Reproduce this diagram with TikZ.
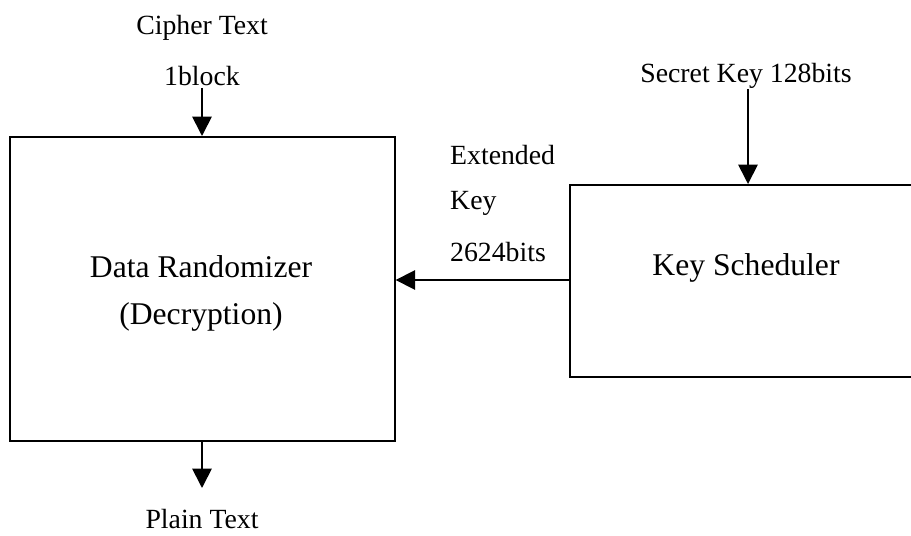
\documentclass[tikz,border=0pt]{standalone}
\usepackage{fontspec}
\setmainfont{Liberation Serif}
\usetikzlibrary{arrows.meta}
\tikzset{
  block/.style={draw, line width=1pt, inner sep=0pt},
  bigtxt/.style={font=\fontsize{18}{22}\selectfont},
  smalltxt/.style={font=\fontsize{15.8}{18}\selectfont},
  flow/.style={line width=1pt, -{Triangle[length=11pt,width=11pt]}}
}
\begin{document}
\begin{tikzpicture}[x=0.02cm, y=-0.02cm]
  \clip (0,0) rectangle (911,536);
  % boxes
  \node[block, anchor=north west, minimum width=7.7cm, minimum height=6.08cm] (rand) at (9,136) {};
  \node[block, anchor=north west, minimum width=8.6cm, minimum height=3.84cm] (ks) at (569,184) {};
  \node[bigtxt] (randname) at (201,267) {Data Randomizer};
  \node[bigtxt] (randmode) at (201,317) {(Decryption)};
  \node[bigtxt] (ksname) at (746,268) {Key Scheduler};
  % labels
  \node[smalltxt] (cipher) at (202,28) {Cipher Text};
  \node[smalltxt] (block) at (202,76) {1block};
  \node[smalltxt] (secret) at (746,76) {Secret Key 128bits};
  \node[smalltxt, anchor=west] (ext1) at (444,155) {Extended};
  \node[smalltxt, anchor=west] (ext2) at (444,203) {Key};
  \node[smalltxt, anchor=west] (ext3) at (444,252) {2624bits};
  \node[smalltxt] (plain) at (202,519) {Plain Text};
  % connectors
  \coordinate (cin) at (202,88);
  \coordinate (kin) at (748,89);
  \coordinate (pout) at (202,488);
  \coordinate (kout) at (569,280);
  \draw[flow] (cin) -- (cin |- rand.north);
  \draw[flow] (kin) -- (kin |- ks.north);
  \draw[flow] (kout) -- (kout -| rand.east);
  \draw[flow] (pout |- rand.south) -- (pout);
\end{tikzpicture}
\end{document}
